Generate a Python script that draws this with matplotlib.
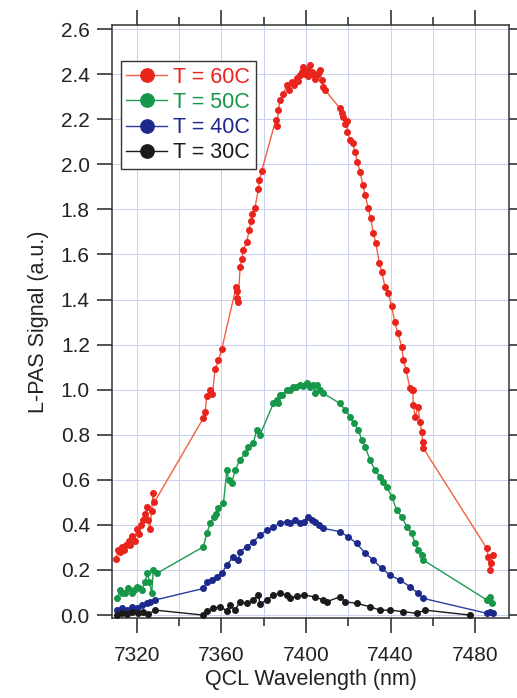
import numpy as np
import matplotlib.pyplot as plt
from matplotlib.ticker import MultipleLocator

# T = 60C
x60 = [7310.3, 7311.2, 7312.0, 7313.0, 7314.0, 7315.0, 7316.2, 7317.0, 7318.0, 7319.0,
       7320.0, 7321.0, 7322.0, 7323.0, 7324.0, 7324.8, 7325.5, 7326.2, 7327.0, 7327.7,
       7328.3, 7351.5, 7352.3, 7353.1, 7354.7, 7355.8, 7357.0, 7358.6, 7360.2,
       7367.0, 7367.3, 7367.6, 7367.9, 7368.9, 7369.6, 7370.4, 7372.0, 7373.2, 7374.0,
       7374.4, 7375.9, 7377.5, 7378.0, 7379.1, 7385.7, 7386.2, 7387.0, 7387.8, 7389.3,
       7390.9, 7392.0, 7393.3, 7394.5, 7395.6, 7396.4, 7397.2, 7398.0, 7398.8, 7399.6,
       7400.4, 7401.2, 7401.9, 7402.7, 7403.5, 7404.3, 7405.1, 7406.0, 7406.7, 7407.5,
       7408.2, 7409.0, 7416.1, 7416.9, 7417.4, 7418.5, 7419.3, 7419.6, 7420.9, 7422.1,
       7423.2, 7424.3, 7425.6, 7426.9, 7428.0, 7429.5, 7430.6, 7431.9, 7433.1, 7434.7,
       7435.8, 7437.4, 7439.0, 7440.5, 7442.0, 7443.5, 7445.3, 7446.1, 7447.3, 7449.2,
       7450.0, 7450.5, 7450.8, 7451.6, 7453.1, 7453.9, 7454.7, 7455.2, 7455.5,
       7485.5, 7486.2, 7487.0, 7487.5, 7488.6]
y60 = [0.25, 0.29, 0.28, 0.30, 0.29, 0.31, 0.33, 0.31, 0.35, 0.33,
       0.38, 0.36, 0.40, 0.42, 0.45, 0.48, 0.42, 0.38, 0.46, 0.54,
       0.50, 0.874, 0.90, 0.97, 1.00, 0.98, 1.09, 1.13, 1.18,
       1.457, 1.44, 1.406, 1.39, 1.545, 1.58, 1.62, 1.656, 1.708, 1.75,
       1.78, 1.806, 1.89, 1.93, 1.97, 2.196, 2.17, 2.24, 2.285, 2.31,
       2.35, 2.33, 2.366, 2.35, 2.381, 2.37, 2.396, 2.41, 2.43, 2.40,
       2.418, 2.39, 2.44, 2.41, 2.40, 2.38, 2.396, 2.41, 2.418, 2.374,
       2.344, 2.33, 2.248, 2.226, 2.21, 2.18, 2.19, 2.144, 2.107, 2.093,
       2.055, 2.011, 1.967, 1.908, 1.863, 1.804, 1.76, 1.693, 1.649, 1.56,
       1.523, 1.457, 1.427, 1.37, 1.30, 1.25, 1.19, 1.131, 1.087, 1.006,
       1.00, 0.998, 0.932, 0.88, 0.924, 0.858, 0.813, 0.769, 0.74,
       0.296, 0.259, 0.20, 0.23, 0.266]

# T = 50C
x50 = [7310.8, 7312.1, 7313.2, 7314.5, 7316.0, 7317.6, 7318.8, 7320.0, 7321.2, 7322.4,
       7323.9, 7325.0, 7326.0, 7327.1, 7327.8, 7329.5, 7351.5, 7353.1, 7354.7, 7356.5,
       7357.5, 7358.6, 7361.0, 7362.6, 7363.4, 7364.9, 7366.5, 7368.8, 7371.2, 7372.8,
       7375.1, 7376.7, 7378.3, 7384.6, 7386.2, 7387.0, 7387.8, 7388.6, 7390.9, 7392.5,
       7394.0, 7395.5, 7397.2, 7398.8, 7400.4, 7402.0, 7403.5, 7404.3, 7405.1, 7406.5,
       7408.2, 7416.1, 7418.5, 7420.9, 7422.8, 7424.8, 7426.4, 7428.0, 7430.3, 7432.7,
       7435.0, 7436.5, 7438.2, 7440.6, 7442.9, 7445.3, 7447.7, 7450.0, 7451.6, 7453.1,
       7454.7, 7455.5, 7485.5, 7487.0, 7487.8]
y50 = [0.074, 0.111, 0.10, 0.098, 0.118, 0.096, 0.11, 0.126, 0.12, 0.111,
       0.148, 0.185, 0.148, 0.096, 0.20, 0.185, 0.303, 0.362, 0.407, 0.436,
       0.45, 0.473, 0.496, 0.643, 0.60, 0.584, 0.643, 0.688, 0.717, 0.747,
       0.762, 0.821, 0.80, 0.939, 0.954, 0.939, 0.976, 0.976, 0.998, 1.00,
       1.013, 1.01, 1.02, 1.015, 1.028, 1.01, 1.02, 0.984, 1.02, 1.00,
       0.984, 0.939, 0.91, 0.88, 0.85, 0.821, 0.776, 0.747, 0.688, 0.643,
       0.614, 0.59, 0.569, 0.525, 0.466, 0.436, 0.392, 0.362, 0.318, 0.288,
       0.266, 0.244, 0.067, 0.081, 0.052]

# T = 40C
x40 = [7310.5, 7312.9, 7315.3, 7317.6, 7320.0, 7322.4, 7324.7, 7326.3, 7328.7,
       7351.5, 7353.1, 7355.5, 7357.8, 7360.2, 7362.6, 7365.7, 7368.0, 7368.8, 7372.0,
       7375.1, 7378.3, 7381.5, 7384.6, 7387.8, 7390.9, 7392.5, 7395.0, 7397.2, 7399.0,
       7401.1, 7402.7, 7404.3, 7406.0, 7408.2, 7416.1, 7420.0, 7424.0, 7428.0, 7431.9,
       7435.8, 7439.8, 7444.5, 7449.2, 7453.1, 7455.5, 7485.5, 7487.0, 7488.5]
y40 = [0.022, 0.03, 0.022, 0.037, 0.03, 0.044, 0.052, 0.059, 0.067,
       0.118, 0.148, 0.155, 0.17, 0.185, 0.222, 0.259, 0.244, 0.281, 0.303,
       0.325, 0.355, 0.377, 0.392, 0.407, 0.414, 0.407, 0.42, 0.407, 0.415,
       0.436, 0.42, 0.414, 0.40, 0.385, 0.37, 0.347, 0.318, 0.274, 0.244,
       0.207, 0.177, 0.155, 0.126, 0.096, 0.074, 0.008, 0.015, 0.008]

# T = 30C
x30 = [7310.5, 7313.0, 7315.5, 7318.0, 7320.5, 7323.0, 7325.5, 7328.7,
       7351.5, 7353.0, 7356.2, 7359.4, 7362.6, 7364.1, 7366.5, 7368.8, 7372.0, 7375.1,
       7377.5, 7378.3, 7381.5, 7384.6, 7387.8, 7390.9, 7392.5, 7396.0, 7399.3, 7404.3,
       7408.2, 7409.8, 7416.1, 7418.5, 7424.0, 7430.3, 7435.0, 7439.8, 7446.1, 7452.3,
       7456.3, 7477.6]
y30 = [0.0, 0.01, 0.005, 0.015, 0.008, 0.012, 0.005, 0.022,
       0.0, 0.02, 0.03, 0.037, 0.02, 0.044, 0.022, 0.059, 0.052, 0.067,
       0.089, 0.05, 0.067, 0.089, 0.096, 0.089, 0.074, 0.085, 0.089, 0.08,
       0.067, 0.059, 0.081, 0.059, 0.052, 0.037, 0.022, 0.022, 0.015, 0.008,
       0.022, 0.0]

series = [
    (x60, y60, 'T = 60C', '#e8241c', '#f2603f'),
    (x50, y50, 'T = 50C', '#16974a', '#1f9a50'),
    (x40, y40, 'T = 40C', '#1d2a8c', '#2b3c9e'),
    (x30, y30, 'T = 30C', '#1a1a1a', '#1a1a1a'),
]

plt.rcParams['font.family'] = ['Liberation Sans', 'DejaVu Sans']

fig = plt.figure(figsize=(5.17, 6.98), dpi=100)
ax = fig.add_axes([0.2166, 0.1146, 0.7679, 0.8496])

for x, y, lab, mc, lc in series:
    ax.plot(x, y, '-', color=lc, lw=1.0, marker='o', ms=4.0,
            mfc=mc, mec=mc, label=lab, zorder=3)

ax.set_xlim(7308.3, 7496)
ax.set_ylim(-0.013, 2.618)
ax.xaxis.set_major_locator(MultipleLocator(40))
ax.xaxis.set_minor_locator(MultipleLocator(20))
ax.yaxis.set_major_locator(MultipleLocator(0.2))
ax.yaxis.set_major_formatter(plt.FormatStrFormatter('%.1f'))

ax.grid(True, which='both', axis='x', color='#c8d0f0', lw=0.7)
ax.grid(True, which='major', axis='y', color='#c8d0f0', lw=0.7)
ax.set_axisbelow(True)

ax.tick_params(which='major', direction='out', length=11, width=1.1,
               top=True, right=True, labelsize=15, colors='#222222')
ax.tick_params(axis='y', which='major', pad=5)
ax.tick_params(axis='x', which='major', pad=9)
ax.tick_params(which='minor', direction='out', length=6, width=1.1,
               top=True, right=False, colors='#222222')
for s in ax.spines.values():
    s.set_color('#333333')
    s.set_linewidth(1.1)

ax.set_xlabel('QCL Wavelength (nm)', fontsize=15.5, color='#222222', labelpad=3)
ax.set_ylabel('L-PAS Signal (a.u.)', fontsize=15.5, color='#222222', labelpad=8)

leg = ax.legend(loc='upper left', bbox_to_anchor=(0.022, 0.939), fontsize=15.5,
                markerscale=2.4, handlelength=1.9, handletextpad=0.3,
                labelspacing=0.2, borderpad=0.25, fancybox=False,
                framealpha=1, edgecolor='#333333', borderaxespad=0)
leg.get_frame().set_linewidth(1.0)
for txt, (_, _, _, mc, _) in zip(leg.get_texts(), series):
    txt.set_color(mc)

fig.savefig('out.png', dpi=100)
